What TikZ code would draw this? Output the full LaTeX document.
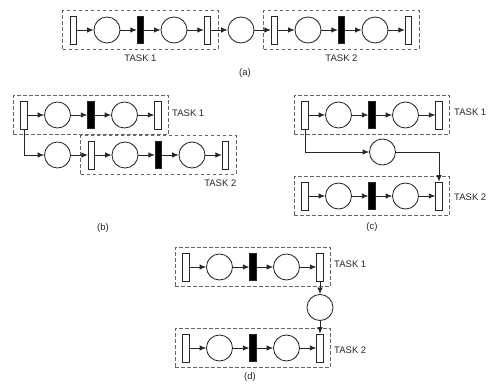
\documentclass[tikz,border=0pt]{standalone}
\usepackage{fontspec}
\setmainfont{Liberation Sans}
\usetikzlibrary{arrows.meta,fit}

\tikzset{
  net/.style={line width=0.85pt, draw=black!85},
  place/.style={net, circle, minimum size=26pt, inner sep=0pt},
  opentr/.style={net, rectangle, minimum width=6.5pt, minimum height=28pt, inner sep=0pt, fill=white},
  solidtr/.style={net, rectangle, fill=black, minimum width=6.5pt, minimum height=27pt, inner sep=0pt},
  arc/.style={net, -{Latex[length=6.5pt,width=5.5pt]}},
  taskbox/.style={rectangle, draw=black!60, line width=0.7pt, dash pattern=on 3.5pt off 2.5pt,
                  inner xsep=7pt, inner ysep=5pt},
  lbl/.style={font=\fontsize{9.5}{10}\selectfont, inner sep=0pt, text=black!85},
}

% One task: open transition, place, timed transition, place, open transition
\newcommand{\netchain}[3]{% prefix, first x, row y
  \node[opentr]  (#1-1) at (#2,#3) {};
  \node[place]   (#1-2) at ({#2+33.5},#3) {};
  \node[solidtr] (#1-3) at ({#2+67},#3) {};
  \node[place]   (#1-4) at ({#2+100.5},#3) {};
  \node[opentr]  (#1-5) at ({#2+134},#3) {};
  \draw[arc] (#1-1) -- (#1-2);
  \draw[arc] (#1-2) -- (#1-3);
  \draw[arc] (#1-3) -- (#1-4);
  \draw[arc] (#1-4) -- (#1-5);
  \node[taskbox, fit=(#1-1)(#1-5)] (#1box) {};
}

\begin{document}
\begin{tikzpicture}[x=1pt, y=-1pt]
\useasboundingbox (0,0) rectangle (490,387);

% (a) tasks in sequence on one row
\netchain{a1}{73.5}{30}
\node[place] (a0) at (241,30) {};
\netchain{a2}{274.5}{30}
\draw[arc] (a1-5) -- (a0);
\draw[arc] (a0) -- (a2-1);
\node[lbl, anchor=north] (a1lab) at ([yshift=-4.5pt]a1box.south) {TASK 1};
\node[lbl, anchor=north] (a2lab) at ([yshift=-4.5pt]a2box.south) {TASK 2};
\node[lbl] (capa) at (245,73) {(a)};

% (b) second task started from the first transition
\netchain{b1}{24}{115}
\node[place] (b0) at (57.5,155) {};
\netchain{b2}{91.5}{155}
\draw[arc] (b1-1.south) |- (b0.west);
\draw[arc] (b0) -- (b2-1);
\node[lbl, anchor=west] (b1lab) at ([xshift=3pt,yshift=2pt]b1box.east) {TASK 1};
\node[lbl, anchor=north east] (b2lab) at ([yshift=-5pt]b2box.south east) {TASK 2};
\node[lbl] (capb) at (103,228) {(b)};

% (c) first transition feeds the last transition of task 2
\netchain{c1}{305}{115}
\node[place] (c0) at (382.5,152) {};
\netchain{c2}{305}{196}
\draw[arc] (c1-1.south) |- (c0.west);
\draw[arc] (c0.east) -| (c2-5.north);
\node[lbl, anchor=west] (c1lab) at ([xshift=4pt,yshift=3pt]c1box.east) {TASK 1};
\node[lbl, anchor=west] (c2lab) at ([xshift=4pt,yshift=-1pt]c2box.east) {TASK 2};
\node[lbl] (capc) at (372,227) {(c)};

% (d) last transition to last transition
\netchain{d1}{186}{267}
\node[place] (d0) at (320,307.5) {};
\netchain{d2}{186}{348}
\draw[arc] (d1-5) -- (d0);
\draw[arc] (d0) -- (d2-5);
\node[lbl, anchor=west] (d1lab) at ([xshift=3pt,yshift=3pt]d1box.east) {TASK 1};
\node[lbl, anchor=west] (d2lab) at ([xshift=3pt,yshift=-2pt]d2box.east) {TASK 2};
\node[lbl] (capd) at (250,377) {(d)};
\end{tikzpicture}
\end{document}
